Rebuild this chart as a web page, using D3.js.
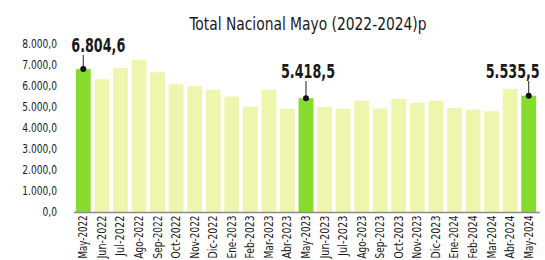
<!DOCTYPE html>
<html><head><meta charset="utf-8">
<script src="https://cdn.jsdelivr.net/npm/d3@7"></script>
<style>
html,body{margin:0;padding:0;background:#fff;}
svg{display:block;}
text{font-family:"DejaVu Sans",sans-serif;font-stretch:condensed;fill:#1a1a1a;}
</style></head>
<body><svg id="c" width="545" height="260"></svg>
<script>
const months = ["May-2022","Jun-2022","Jul-2022","Ago-2022","Sep-2022","Oct-2022","Nov-2022","Dic-2022","Ene-2023","Feb-2023","Mar-2023","Abr-2023","May-2023","Jun-2023","Jul-2023","Ago-2023","Sep-2023","Oct-2023","Nov-2023","Dic-2023","Ene-2024","Feb-2024","Mar-2024","Abr-2024","May-2024"];
const values = [6804.6,6320,6860,7250,6660,6080,6000,5820,5500,5020,5820,4910,5418.5,5000,4910,5300,4930,5380,5200,5300,4950,4880,4800,5860,5535.5];
const highlighted = ["May-2022","May-2023","May-2024"];
const highlightLabels = ["6.804,6","5.418,5","5.535,5"];
const yTicks = [0,1000,2000,3000,4000,5000,6000,7000,8000];
const title = "Total Nacional Mayo (2022-2024)p";

const svg = d3.select("#c");
const x = d3.scaleBand().domain(months).range([74,538]).paddingInner(0.2).paddingOuter(0.1);
const y = d3.scaleLinear().domain([0,8000]).range([212,44]);
const fmt = v => {
  const s = d3.format(",.1f")(v);
  return s.replace(/,/g,"#").replace(".",",").replace(/#/g,".");
};
function squeeze(sel, f){
  sel.each(function(){
    const w = this.getComputedTextLength();
    d3.select(this).attr("textLength", w*f).attr("lengthAdjust","spacingAndGlyphs");
  });
}

const t = svg.append("text").attr("x",308).attr("y",30).attr("text-anchor","middle")
  .style("font-size","18px").text(title);
squeeze(t, 237/ t.node().getComputedTextLength());

const yl = svg.append("g").selectAll("text").data(yTicks).join("text")
  .attr("x",57).attr("y",d=>y(d)+4).attr("text-anchor","end")
  .style("font-size","11.5px").text(fmt);
squeeze(yl, 0.88);

svg.append("g").selectAll("rect").data(months).join("rect")
  .attr("x",d=>x(d)).attr("width",x.bandwidth())
  .attr("y",(d,i)=>y(values[i])).attr("height",(d,i)=>y(0)-y(values[i]))
  .attr("fill",d=>highlighted.includes(d)?"#86dc2e":"#eef6ae");

svg.append("line").attr("x1",74).attr("x2",540).attr("y1",212.5).attr("y2",212.5)
  .attr("stroke","#8a8a8a").attr("stroke-width",1.5);

const xl = svg.append("g").selectAll("text").data(months).join("text")
  .attr("transform",d=>`translate(${x(d)+x.bandwidth()/2+4},215.5) rotate(-90)`)
  .attr("text-anchor","end").style("font-size","11.5px").text(d=>d);
xl.each(function(){
  const w = this.getComputedTextLength();
  d3.select(this).attr("textLength", Math.min(w*0.95, 43)).attr("lengthAdjust","spacingAndGlyphs");
});

const labelDx = [15, 2, -16];
highlighted.forEach((m,k)=>{
  const i = months.indexOf(m);
  const cx = x(m)+x.bandwidth()/2, cy = y(values[i]);
  const ty = k===0 ? 52 : 78;
  svg.append("line").attr("x1",cx).attr("x2",cx).attr("y1",cy).attr("y2",ty+3)
    .attr("stroke","#222").attr("stroke-width",1);
  svg.append("circle").attr("cx",cx).attr("cy",cy).attr("r",3).attr("fill","#111");
  const lt = svg.append("text").attr("text-anchor","middle")
    .style("font-size","19px").style("font-weight","bold").text(highlightLabels[k]);
  const sx = 54/lt.node().getComputedTextLength();
  lt.attr("transform",`translate(${cx+labelDx[k]},${ty}) scale(${sx},1)`);
});
</script></body></html>
